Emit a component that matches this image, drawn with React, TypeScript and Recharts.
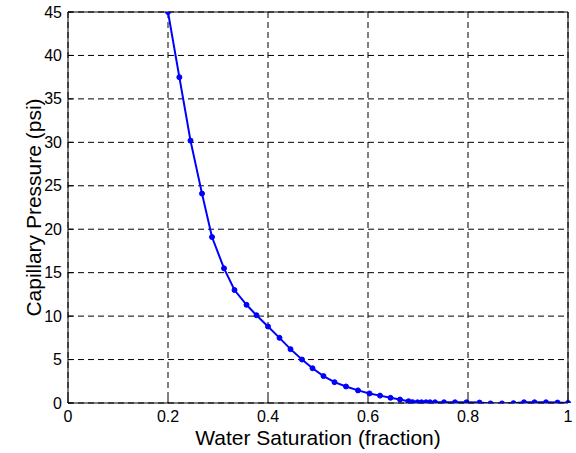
import { LineChart, Line, XAxis, YAxis, CartesianGrid, ReferenceLine, Label } from 'recharts'

// water saturation (fraction) and capillary pressure (psi)
const saturation = [
  0.2, 0.2227, 0.245, 0.268, 0.288, 0.312, 0.333, 0.357, 0.377, 0.4,
  0.423, 0.445, 0.468, 0.489, 0.511, 0.533, 0.556, 0.58, 0.603, 0.624,
  0.645, 0.664, 0.681, 0.689, 0.699, 0.707, 0.716, 0.724, 0.734, 0.752,
  0.774, 0.797, 0.823, 0.845, 0.868, 0.891, 0.912, 0.933, 0.956, 0.979, 1.0,
]
const pressure = [
  45, 37.5, 30.2, 24.1, 19.1, 15.5, 13.0, 11.3, 10.1, 8.8,
  7.5, 6.2, 5.0, 4.0, 3.1, 2.4, 1.9, 1.45, 1.1, 0.85,
  0.6, 0.4, 0.2, 0.1, 0.08, 0.08, 0.08, 0.08, 0.08, 0.08,
  0.08, 0.08, 0.05, -0.05, -0.05, -0.02, 0.08, 0.08, 0.08, 0.05, 0.0,
]
const xTicks = [0, 0.2, 0.4, 0.6, 0.8, 1]
const yTicks = [0, 5, 10, 15, 20, 25, 30, 35, 40, 45]

const data = saturation.map((sw, i) => ({ sw, pc: pressure[i] }))

const FONT = '"Liberation Sans", Arial, sans-serif'

function YTick(props: any) {
  const { x, y, payload } = props
  return (
    <g>
      <line x1={x + 6} x2={x + 11} y1={y} y2={y} stroke="#000" />
      <text x={x} y={y} dy={5.5} textAnchor="end" fontSize={16} fontFamily={FONT} fill="#000">
        {payload.value}
      </text>
    </g>
  )
}

function XTick(props: any) {
  const { x, y, payload } = props
  return (
    <g>
      <line x1={x} x2={x} y1={y - 6} y2={y - 11} stroke="#000" />
      <text x={x} y={y} dy={12.5} textAnchor="middle" fontSize={16} fontFamily={FONT} fill="#000">
        {String(payload.value)}
      </text>
    </g>
  )
}

export default function App() {
  return (
    <div style={{ position: 'absolute', left: 0, top: 0, width: 576, height: 453, background: '#fff' }}>
      <LineChart width={576} height={453} data={data} margin={{ top: 12, right: 8, bottom: 0, left: 0 }}>
        <CartesianGrid stroke="#000" strokeDasharray="6 4" />
        <XAxis
          type="number"
          dataKey="sw"
          domain={[0, 1]}
          ticks={xTicks}
          height={50}
          tickSize={6}
          tickMargin={0}
          tickLine={false}
          tick={<XTick />}
          stroke="#000"
          interval={0}
        >
          <Label
            value="Water Saturation (fraction)"
            position="insideBottom"
            offset={8}
            style={{ fontSize: 21, fontFamily: FONT, fill: '#000' }}
          />
        </XAxis>
        <YAxis
          type="number"
          domain={[0, 45]}
          allowDataOverflow
          ticks={yTicks}
          width={68}
          tickSize={6}
          tickMargin={0}
          tickLine={false}
          tick={<YTick />}
          stroke="#000"
          interval={0}
        >
          <Label
            value="Capillary Pressure (psi)"
            angle={-90}
            position="insideLeft"
            offset={34}
            style={{ fontSize: 21, fontFamily: FONT, fill: '#000', textAnchor: 'middle' }}
          />
        </YAxis>
        <ReferenceLine y={45} stroke="#000" strokeWidth={1} />
        <ReferenceLine x={1} stroke="#000" strokeWidth={1} />
        <Line
          type="linear"
          dataKey="pc"
          stroke="#0000FF"
          strokeWidth={2}
          dot={{ r: 2.5, fill: '#0000FF', stroke: '#0000FF', strokeWidth: 1 }}
          isAnimationActive={false}
        />
      </LineChart>
    </div>
  )
}
